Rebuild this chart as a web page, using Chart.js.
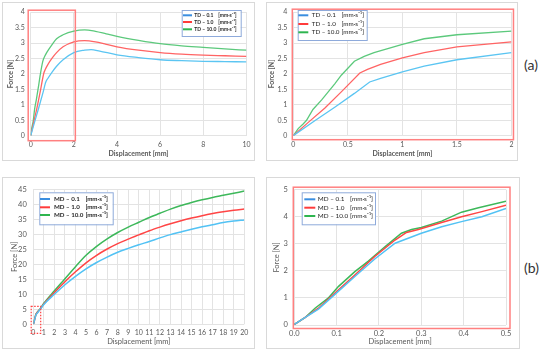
<!DOCTYPE html>
<html>
<head>
<meta charset="utf-8">
<script src="https://cdn.jsdelivr.net/npm/chart.js@4"></script>
<style>
    body { margin: 0; width: 550px; height: 352px; position: relative; overflow: hidden; background: #fff; font-family: Lato, sans-serif; }
    .panel { position: absolute; border: 1px solid #D9D9D9; box-sizing: border-box; }
    canvas { position: absolute; }
    .tag { position: absolute; font-size: 14px; color: #333; }
</style>
</head>
<body>
<div class="panel" style="left:2px;top:2px;width:253px;height:159px"></div>
<div class="panel" style="left:266px;top:2px;width:252px;height:159px"></div>
<div class="panel" style="left:2px;top:177px;width:253px;height:172px"></div>
<div class="panel" style="left:266px;top:177px;width:254px;height:172px"></div>
<canvas id="tdWide" width="253" height="159" style="left:2px;top:2px"></canvas>
<canvas id="tdZoom" width="252" height="159" style="left:266px;top:2px"></canvas>
<canvas id="mdWide" width="253" height="172" style="left:2px;top:177px"></canvas>
<canvas id="mdZoom" width="254" height="172" style="left:266px;top:177px"></canvas>
<span class="tag" style="left:524px;top:56px">(a)</span>
<span class="tag" style="left:524px;top:259px">(b)</span>

<script>
// legend labels
const tdLabels = ['TD – 0.1', 'TD – 1.0', 'TD – 10.0'];
const mdLabels = ['MD – 0.1', 'MD – 1.0', 'MD – 10.0'];
const rateUnit = '[mm·s⁻¹]';

// tick values
const tdWideXTicks = [0, 2, 4, 6, 8, 10];
const tdZoomXTicks = [0, 0.5, 1, 1.5, 2];
const tdForceTicks = [0, 0.5, 1, 1.5, 2, 2.5, 3, 3.5, 4];
const mdWideXTicks = [0, 1, 2, 3, 4, 5, 6, 7, 8, 9, 10, 11, 12, 13, 14, 15, 16, 17, 18, 19, 20];
const mdWideYTicks = [0, 5, 10, 15, 20, 25, 30, 35, 40, 45];
const mdZoomXTicks = [0, 0.1, 0.2, 0.3, 0.4, 0.5];
const mdZoomYTicks = [0, 1, 2, 3, 4, 5];

// TD curves (displacement mm, force N)
const td01X = [0, 0.2, 0.38, 0.56, 0.7, 0.8, 1.0, 1.2, 1.5, 2.0, 2.5, 2.8, 3.2, 4, 5, 6, 7, 8, 9, 10];
const td01Y = [0, 0.49, 0.92, 1.37, 1.74, 1.86, 2.07, 2.25, 2.46, 2.69, 2.77, 2.79, 2.74, 2.62, 2.53, 2.46, 2.43, 2.41, 2.40, 2.39];
const td1X = [0, 0.14, 0.29, 0.44, 0.61, 0.68, 0.8, 1.0, 1.2, 1.5, 2.0, 2.5, 3.0, 3.5, 4, 5, 6, 7, 8, 9, 10];
const td1Y = [0, 0.44, 0.9, 1.42, 2.03, 2.15, 2.31, 2.52, 2.69, 2.88, 3.04, 3.08, 3.04, 2.96, 2.88, 2.77, 2.69, 2.64, 2.61, 2.59, 2.57];
const td10X = [0, 0.045, 0.09, 0.12, 0.18, 0.26, 0.38, 0.44, 0.56, 0.65, 0.74, 1.0, 1.2, 1.5, 2.0, 2.5, 3.0, 3.5, 4, 5, 6, 7, 8, 9, 10];
const td10Y = [0, 0.23, 0.38, 0.49, 0.85, 1.16, 1.68, 1.96, 2.41, 2.57, 2.69, 2.96, 3.14, 3.27, 3.39, 3.43, 3.38, 3.3, 3.22, 3.09, 2.98, 2.91, 2.86, 2.81, 2.77];

// MD curves
const md01X = [0, 0.025, 0.057, 0.096, 0.143, 0.19, 0.238, 0.3, 0.348, 0.395, 0.443, 0.5, 0.7, 1, 2, 3, 4, 5, 6, 7, 8, 9, 10, 11, 12, 13, 14, 15, 16, 17, 18, 19, 20];
const md01Y = [0.02, 0.27, 0.59, 1.13, 1.79, 2.44, 3.02, 3.39, 3.63, 3.82, 4.0, 4.31, 5.2, 6.6, 10.0, 13.2, 16.0, 18.5, 20.6, 22.4, 24.0, 25.3, 26.5, 27.6, 28.8, 29.9, 30.8, 31.7, 32.5, 33.2, 33.9, 34.4, 34.8];
const md1X = [0, 0.025, 0.057, 0.096, 0.143, 0.19, 0.238, 0.265, 0.293, 0.348, 0.395, 0.443, 0.5, 0.7, 1, 2, 3, 4, 5, 6, 7, 8, 9, 10, 11, 12, 13, 14, 15, 16, 17, 18, 19, 20];
const md1Y = [0.02, 0.27, 0.62, 1.18, 1.85, 2.53, 3.14, 3.42, 3.53, 3.79, 4.0, 4.19, 4.43, 5.3, 6.8, 10.6, 14.2, 17.5, 20.5, 23.0, 25.1, 26.9, 28.4, 29.8, 31.2, 32.4, 33.5, 34.5, 35.4, 36.2, 36.9, 37.5, 38.0, 38.4];
const md10X = [0, 0.025, 0.049, 0.08, 0.104, 0.143, 0.175, 0.214, 0.253, 0.277, 0.3, 0.348, 0.395, 0.435, 0.5, 0.7, 1, 2, 3, 4, 5, 6, 7, 8, 9, 10, 11, 12, 13, 14, 15, 16, 17, 18, 19, 20];
const md10Y = [0.02, 0.27, 0.62, 0.99, 1.42, 1.97, 2.36, 2.89, 3.39, 3.53, 3.6, 3.84, 4.17, 4.33, 4.57, 5.4, 7.0, 11.2, 15.2, 19.2, 23.0, 26.0, 28.5, 30.6, 32.4, 34.0, 35.6, 37.0, 38.4, 39.6, 40.6, 41.5, 42.3, 43.0, 43.7, 44.4];

const pts = (xs, ys) => xs.map((x, i) => ({ x: x, y: ys[i] }));

// bordered legend drawn inside the plot
const boxLegend = {
    id: 'boxLegend',
    afterDraw(chart, args, o) {
        if (!o.box) return;
        const ctx = chart.ctx;
        const [bx, by, bw, bh] = o.box;
        ctx.save();
        ctx.fillStyle = '#fff';
        ctx.fillRect(bx, by, bw, bh);
        ctx.strokeStyle = '#8EAADB';
        ctx.lineWidth = 1;
        ctx.strokeRect(bx + 0.5, by + 0.5, bw, bh);
        ctx.font = o.font;
        ctx.textBaseline = 'middle';
        ctx.fillStyle = '#262626';
        const labelW = Math.max(...chart.data.datasets.map(ds => ctx.measureText(ds.label).width));
        const unitX = Math.max(o.unitX, o.textX + labelW + 2);
        chart.data.datasets.forEach((ds, i) => {
            const y = o.rows[i];
            ctx.strokeStyle = o.swatch[i];
            ctx.lineWidth = 2;
            ctx.beginPath();
            ctx.moveTo(o.sw[0], y);
            ctx.lineTo(o.sw[1], y);
            ctx.stroke();
            ctx.fillText(ds.label, o.textX, y);
            ctx.fillText(rateUnit, unitX, y);
        });
        ctx.restore();
    }
};

// red frame marking the zoomed region
const redFrame = {
    id: 'redFrame',
    afterDraw(chart, args, o) {
        if (!o.pad) return;
        const ctx = chart.ctx, xs = chart.scales.x, ys = chart.scales.y;
        let l, r, t, b;
        if (o.region) {
            l = xs.getPixelForValue(o.region[0]);
            r = xs.getPixelForValue(o.region[1]);
            b = ys.getPixelForValue(o.region[2]);
            t = ys.getPixelForValue(o.region[3]);
        } else {
            const a = chart.chartArea;
            l = a.left; r = a.right; t = a.top; b = a.bottom;
        }
        l += o.pad[0]; r += o.pad[1]; t += o.pad[2]; b += o.pad[3];
        ctx.save();
        ctx.strokeStyle = o.color;
        ctx.lineWidth = o.width;
        if (o.dash) ctx.setLineDash(o.dash);
        ctx.strokeRect(l, t, r - l, b - t);
        ctx.restore();
    }
};

function axis(ticks, o) {
    return {
        type: 'linear',
        min: ticks[0],
        max: ticks[ticks.length - 1],
        afterBuildTicks: s => { s.ticks = ticks.map(v => ({ value: v })); },
        afterFit: s => { if (s.isHorizontal()) s.height = o.size; else s.width = o.size; },
        grid: { color: '#E3E3E3', lineWidth: 1, drawTicks: false },
        border: { display: false },
        ticks: {
            padding: o.pad,
            color: '#595959',
            autoSkip: false,
            maxRotation: 0,
            font: { family: 'Lato', size: o.fs },
            callback: o.fmt || (v => String(v))
        },
        title: {
            display: true,
            text: o.title,
            color: '#595959',
            font: { family: 'Lato', size: o.ts, weight: o.bold ? 'bold' : 'normal' },
            padding: o.tpad
        }
    };
}

function series(labels, sets, colors, width, smooth) {
    return sets.map((d, i) => ({
        label: labels[i],
        data: pts(d[0], d[1]),
        borderColor: colors[i],
        borderWidth: width,
        pointRadius: 0,
        fill: false,
        tension: smooth ? 0.4 : 0,
        cubicInterpolationMode: smooth ? 'monotone' : 'default'
    }));
}

function makeChart(id, datasets, scales, padding, legend, frame) {
    new Chart(document.getElementById(id), {
        type: 'line',
        data: { datasets: datasets },
        options: {
            responsive: false,
            animation: false,
            devicePixelRatio: 1,
            layout: { padding: padding },
            scales: scales,
            plugins: {
                legend: { display: false },
                tooltip: { enabled: false },
                boxLegend: legend,
                redFrame: frame
            }
        },
        plugins: [boxLegend, redFrame]
    });
}

const tdSets = [[td01X, td01Y], [td1X, td1Y], [td10X, td10Y]];
const mdSets = [[md01X, md01Y], [md1X, md1Y], [md10X, md10Y]];
const tdColors = ['#5BC5F2', '#FF6464', '#5CC97C'];
const mdColors = ['#52C2F4', '#FF4545', '#3DB85A'];
const swatchColors = ['#3A8EE0', '#FF3B3B', '#2EB54F'];

makeChart('tdWide', series(tdLabels, tdSets, tdColors, 1.3, true), {
    x: axis(tdWideXTicks, { size: 25.3, pad: 4.5, fs: 7, title: 'Displacement [mm]', ts: 7, bold: true, tpad: { top: 2, bottom: 3 } }),
    y: axis(tdForceTicks, { size: 28.7, pad: 6, fs: 7, title: 'Force [N]', ts: 7, bold: true, tpad: { top: 4.5, bottom: 2 } })
}, { left: 0, top: 5.3, right: 7, bottom: 0 },
{ box: [179.7, 8, 59, 26], rows: [13.3, 20, 27.3], sw: [181, 190], textX: 192.3, unitX: 216.3, swatch: swatchColors, font: 'bold 5px Lato' },
{ region: [0, 2, 0, 4], pad: [-2.5, 1.5, -2, 5], color: '#FF8080', width: 1.5 });

makeChart('tdZoom', series(tdLabels, tdSets, tdColors, 1.3, false), {
    x: axis(tdZoomXTicks, { size: 25.3, pad: 4.5, fs: 7, title: 'Displacement [mm]', ts: 7, bold: true, tpad: { top: 2, bottom: 3 } }),
    y: axis(tdForceTicks, { size: 27.3, pad: 6, fs: 7, title: 'Force [N]', ts: 7, bold: true, tpad: { top: 1.5, bottom: 2 } })
}, { left: 0, top: 5.3, right: 4.7, bottom: 0 },
{ box: [31.7, 8, 69, 30], rows: [13.3, 22, 30.3], sw: [32.3, 42.3], textX: 45.7, unitX: 74, swatch: swatchColors, font: '6.3px Lato' },
{ pad: [-1, 2, -3, 4], color: '#FF8080', width: 1.5 });

makeChart('mdWide', series(mdLabels, mdSets, mdColors, 1.5, true), {
    x: axis(mdWideXTicks, { size: 24.7, pad: 4.5, fs: 7, title: 'Displacement [mm]', ts: 7.5, bold: false, tpad: { top: 2, bottom: 2.8 } }),
    y: axis(mdWideYTicks, { size: 31.3, pad: 6.5, fs: 7.5, title: 'Force [N]', ts: 7.5, bold: false, tpad: { top: 8.5, bottom: 2 } })
}, { left: 0, top: 12.3, right: 10.7, bottom: 0 },
{ box: [37.3, 15.3, 73.4, 32], rows: [22, 30.3, 38], sw: [38, 48], textX: 52, unitX: 80.3, swatch: swatchColors, font: 'bold 6.2px Lato' },
{ region: [-0.2, 0.7, -3, 6], pad: [0, 0, 0, 0], color: '#FF4040', width: 1.2, dash: [1.5, 1.5] });

makeChart('mdZoom', series(mdLabels, mdSets, mdColors, 1.5, false), {
    x: axis(mdZoomXTicks, { size: 24, pad: 4.5, fs: 7.5, title: 'Displacement [mm]', ts: 7.5, bold: false, tpad: { top: 2, bottom: 2.8 }, fmt: v => v.toFixed(1) }),
    y: axis(mdZoomYTicks, { size: 28.3, pad: 6.5, fs: 7.5, title: 'Force [N]', ts: 7.5, bold: false, tpad: { top: 6.5, bottom: 2 } })
}, { left: 0, top: 12.7, right: 14, bottom: 0 },
{ box: [35.7, 15.3, 73.3, 32], rows: [22.3, 30.7, 39], sw: [38.3, 49.3], textX: 51.7, unitX: 76.5, swatch: swatchColors, font: '6.4px Lato' },
{ pad: [-1, 4, -2.5, 3.5], color: '#FF8080', width: 1.5 });
</script>
</body>
</html>
